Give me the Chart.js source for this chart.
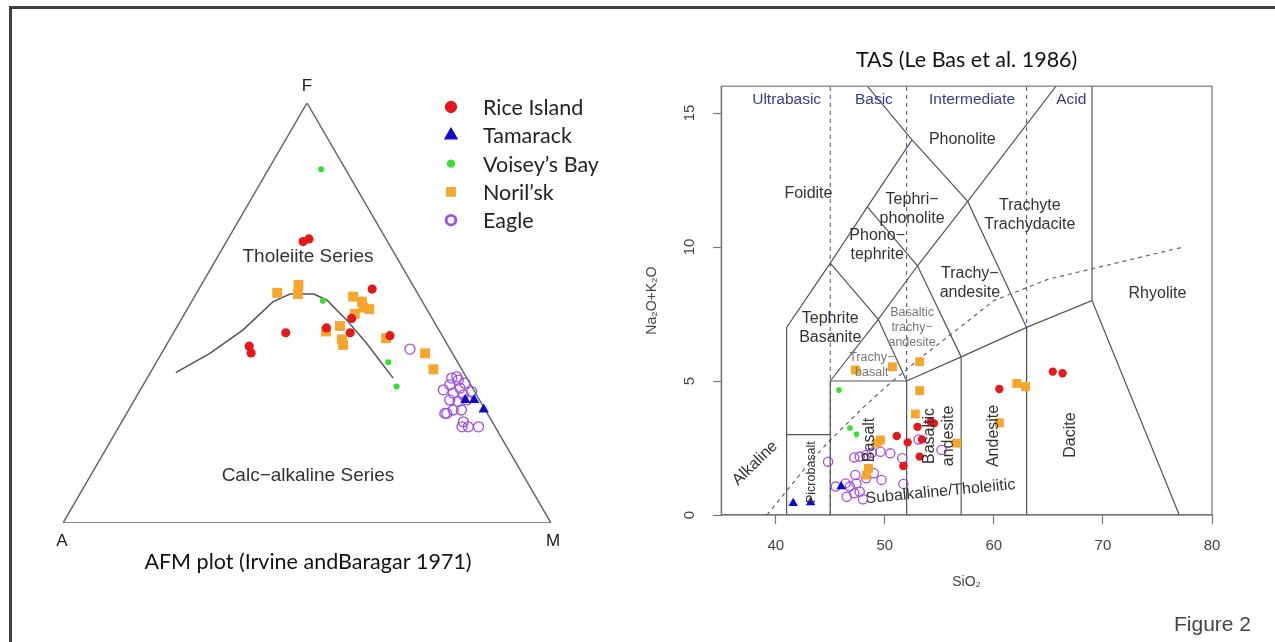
<!DOCTYPE html>
<html>
<head>
<meta charset="utf-8">
<script src="https://cdn.jsdelivr.net/npm/chart.js@4/dist/chart.umd.min.js"></script>
<style>
  html, body { margin: 0; padding: 0; background: #fff; }
  body { width: 1275px; height: 642px; position: relative; overflow: hidden; }
  #frame { position: absolute; left: 9px; top: 6px; width: 1400px; height: 800px;
           border-top: 3px solid #404040; border-left: 3px solid #404040; }
  #afm { position: absolute; left: 12px; top: 12px; }
  #tas { position: absolute; left: 630px; top: 30px; }
  #fig-label { position: absolute; left: 1174px; top: 612px; color: #444;
               font: 21px "Liberation Sans", Arial, sans-serif; }
</style>
</head>
<body>
<div id="frame"></div>
<canvas id="afm" width="618" height="620"></canvas>
<canvas id="tas" width="645" height="600"></canvas>
<div id="fig-label">Figure 2</div>

<script>
// series
const seriesNames = ["Rice Island", "Tamarack", "Voisey\u2019s Bay", "Noril\u2019sk", "Eagle"];

// AFM compositions, [A, F, M] in %
const riceAFM = [[17.3, 67.0, 15.7], [15.8, 67.7, 16.6], [8.8, 55.7, 35.5], [16.5, 48.7, 34.8],
  [18.5, 45.3, 36.2], [22.8, 46.5, 30.8], [31.7, 45.3, 23.0], [40.8, 42.1, 17.1],
  [41.2, 40.5, 18.3], [10.7, 44.6, 44.7]];
const tamarackAFM = [[2.9, 29.3, 67.8], [1.1, 29.3, 69.6], [0.3, 27.0, 72.7]];
const voiseyAFM = [[5.0, 84.2, 10.8], [20.3, 52.9, 26.8], [14.2, 38.3, 47.5], [15.4, 32.5, 52.1]];
const norilskAFM = [[28.7, 54.8, 16.5], [23.4, 56.7, 19.9], [24.6, 54.5, 20.9], [13.6, 53.9, 32.5],
  [12.4, 52.7, 34.9], [11.8, 50.9, 37.3], [12.8, 51.3, 35.9], [15.3, 49.8, 34.9],
  [19.8, 46.9, 33.3], [23.3, 45.6, 31.1], [21.0, 43.7, 35.3], [21.4, 42.4, 36.2],
  [11.8, 44.0, 44.2], [5.6, 40.4, 54.0], [5.8, 36.6, 57.6]];
const eagleAFM = [[8.2, 41.4, 50.4], [1.9, 34.8, 63.3], [4.3, 32.9, 62.8], [6.2, 31.7, 62.1],
  [4.6, 30.9, 64.5], [2.6, 32.1, 65.3], [2.7, 30.5, 66.8], [6.1, 29.3, 64.6],
  [4.6, 28.9, 66.5], [2.6, 29.3, 68.1], [8.7, 26.1, 65.2], [6.6, 26.9, 66.5],
  [4.9, 26.9, 68.2], [5.9, 24.1, 70.0], [6.8, 22.9, 70.3], [5.5, 22.9, 71.6],
  [3.4, 22.9, 73.7], [2.0, 34.0, 64.0], [3.1, 34.5, 62.4], [1.0, 33.3, 65.7],
  [0.6, 31.3, 68.1], [8.3, 26.1, 65.6]];
// Irvine & Baragar tholeiite / calc-alkaline divide, [A, F, M]
const afmDivide = [[59.0, 35.8, 5.2], [49.7, 40.4, 9.9], [40.1, 46.0, 13.9], [30.6, 52.7, 16.7],
  [26.2, 54.5, 19.3], [21.4, 54.5, 24.1], [19.4, 53.1, 27.5], [17.7, 48.3, 34.0],
  [16.4, 42.8, 40.8], [15.1, 34.5, 50.4]];
const afmOutline = [[100, 0, 0], [0, 0, 100], [0, 100, 0], [100, 0, 0]];

// TAS, [SiO2, Na2O+K2O] in wt%
const riceTAS = [[65.4, 5.35], [66.3, 5.29], [60.5, 4.70], [51.1, 2.95], [52.1, 2.71], [53.0, 3.29],
  [54.2, 3.48], [54.5, 3.42], [53.4, 2.82], [53.2, 2.18], [51.7, 1.83]];
const tamarackTAS = [[41.6, 0.44], [43.2, 0.47], [46.0, 1.06]];
const voiseyTAS = [[45.8, 4.66], [46.8, 3.24], [47.4, 3.01]];
const norilskTAS = [[47.3, 5.41], [50.7, 5.53], [53.2, 5.72], [53.2, 4.64], [52.8, 3.77], [60.5, 3.44],
  [62.1, 4.91], [62.9, 4.79], [56.6, 2.68], [49.6, 2.80], [49.3, 2.68], [48.5, 1.74], [48.3, 1.49]];
const eagleTAS = [[44.8, 1.99], [47.2, 2.15], [47.7, 2.18], [48.3, 2.24], [48.8, 2.32], [49.6, 2.36],
  [50.5, 2.30], [51.6, 2.12], [53.1, 2.82], [55.2, 2.43], [47.3, 1.49], [49.0, 1.56],
  [49.7, 1.31], [48.3, 1.37], [45.5, 1.06], [46.4, 1.18], [46.8, 1.06], [46.5, 0.68],
  [47.2, 0.81], [47.7, 0.87], [48.0, 0.59], [51.7, 1.16], [47.4, 1.18]];

// TAS field boundaries (Le Bas et al. 1986)
const tasFieldLines = [
  [[41, 0], [41, 7], [45, 9.4], [48.4, 11.5], [52.5, 14]],
  [[48.4, 16], [52.5, 14], [57.6, 11.7], [63, 7]],
  [[41, 3], [45, 3]],
  [[45, 0], [45, 5], [52, 5], [52, 0]],
  [[52, 5], [57, 5.9], [63, 7], [69, 8], [69, 16]],
  [[57, 0], [57, 5.9]],
  [[63, 0], [63, 7]],
  [[69, 8], [77, 0]],
  [[45, 5], [49.4, 7.3], [53, 9.3], [57.6, 11.7], [65.7, 16]],
  [[45, 9.4], [49.4, 7.3], [52, 5]],
  [[48.4, 11.5], [53, 9.3], [57, 5.9]]
];
const silicaDivides = [45, 52, 63];
const alkalineSiO2 = [39.2, 40, 43.2, 45, 48, 50, 53.7, 55, 60, 65, 77.4];
const alkalineTotal = [0, 0.4, 2, 2.8, 4, 4.75, 6, 6.4, 8, 8.8, 10];
const tasXTicks = [40, 50, 60, 70, 80];
const tasYTicks = [0, 5, 10, 15];

// marker looks
const seriesColors = ["#e3191b", "#0b0bcf", "#2fe22f", "#f6a62c", "#a24ee0"];
const seriesShapes = ["circle", "triangle", "circle", "rect", "circle"];
const seriesFilled = [true, true, true, true, false];
const afmRadius = [4.6, 6, 3, 7, 5];
const tasRadius = [4.2, 5.5, 2.8, 6.3, 4.6];
const drawOrder = [2, 1, 3, 4, 5];

const SANS = '"Liberation Sans", "DejaVu Sans", Arial, sans-serif';
const LATO = 'Lato, "Open Sans", sans-serif';

function ternary(p) {
    const s = p[0] + p[1] + p[2];
    const f = p[1] / s * 100, m = p[2] / s * 100;
    return { x: m + f / 2, y: f * Math.sqrt(3) / 2 };
}

function pointSet(i, pts, radius) {
    return {
        label: seriesNames[i],
        data: pts,
        showLine: false,
        pointStyle: seriesShapes[i],
        pointRadius: radius[i],
        pointBackgroundColor: seriesFilled[i] ? seriesColors[i] : "rgba(0,0,0,0)",
        pointBorderColor: seriesColors[i],
        pointBorderWidth: seriesFilled[i] ? 0 : 1.3,
        order: drawOrder[i],
        clip: false
    };
}

function lineSet(pts, color, width, dash) {
    return {
        data: pts,
        showLine: true,
        fill: false,
        borderColor: color,
        borderWidth: width,
        borderDash: dash || [],
        pointRadius: 0,
        tension: 0,
        order: 10
    };
}

// ---------- AFM ----------
const afmText = {
    id: "afmText",
    afterDatasetsDraw(chart) {
        const { ctx, scales: { x, y } } = chart;
        ctx.save();
        ctx.textAlign = "center";
        ctx.textBaseline = "middle";
        ctx.fillStyle = "#222";
        ctx.font = "17px " + SANS;
        ctx.fillText("F", x.getPixelForValue(50), y.getPixelForValue(86.6) - 17);
        ctx.fillText("A", x.getPixelForValue(0) - 1, y.getPixelForValue(0) + 18);
        ctx.fillText("M", x.getPixelForValue(100) + 2, y.getPixelForValue(0) + 18);
        ctx.fillStyle = "#333";
        ctx.font = "19px " + SANS;
        ctx.fillText("Tholeiite Series", x.getPixelForValue(50.2), y.getPixelForValue(54.8));
        ctx.fillText("Calc\u2212alkaline Series", x.getPixelForValue(50.2), y.getPixelForValue(9.7));
        ctx.fillStyle = "#111";
        ctx.font = "21.5px " + LATO;
        ctx.fillText("AFM plot (Irvine andBaragar 1971)", 296, 550);

        // legend
        ctx.textAlign = "left";
        ctx.font = "21.5px " + LATO;
        const legR = [5.5, 7, 3.5, 6, 4.8];
        seriesNames.forEach((name, i) => {
            const ly = 95 + i * 28.3;
            ctx.fillStyle = seriesFilled[i] ? seriesColors[i] : "rgba(0,0,0,0)";
            ctx.strokeStyle = seriesColors[i];
            ctx.lineWidth = seriesFilled[i] ? 0 : 2.8;
            Chart.helpers.drawPoint(ctx, { pointStyle: seriesShapes[i], radius: legR[i], rotation: 0,
                borderWidth: ctx.lineWidth }, 439, ly);
            ctx.fillStyle = "#222";
            ctx.fillText(name, 471, ly + 1);
        });
        ctx.restore();
    }
};

new Chart(document.getElementById("afm"), {
    type: "scatter",
    data: {
        datasets: [
            lineSet(afmOutline.map(ternary), "#666", 1.5),
            lineSet(afmDivide.map(ternary), "#555", 1.5),
            pointSet(0, riceAFM.map(ternary), afmRadius),
            pointSet(1, tamarackAFM.map(ternary), afmRadius),
            pointSet(2, voiseyAFM.map(ternary), afmRadius),
            pointSet(3, norilskAFM.map(ternary), afmRadius),
            pointSet(4, eagleAFM.map(ternary), afmRadius)
        ]
    },
    options: {
        responsive: false,
        animation: false,
        events: [],
        layout: { padding: { left: 51, right: 79, top: 91, bottom: 109 } },
        scales: {
            x: { type: "linear", min: 0, max: 100, display: false },
            y: { type: "linear", min: 0, max: 86.6, display: false }
        },
        plugins: { legend: { display: false }, tooltip: { enabled: false } }
    },
    plugins: [afmText]
});

// ---------- TAS ----------
const tasFieldLabels = [
    { lines: ["Phonolite"], x: 57.1, y: 14.0 },
    { lines: ["Foidite"], x: 43.0, y: 12.0 },
    { lines: ["Tephri\u2212", "phonolite"], x: 52.5, y: 11.42 },
    { lines: ["Trachyte", "Trachydacite"], x: 63.3, y: 11.18 },
    { lines: ["Phono\u2212", "tephrite"], x: 49.3, y: 10.06 },
    { lines: ["Trachy\u2212", "andesite"], x: 57.8, y: 8.64 },
    { lines: ["Rhyolite"], x: 75.0, y: 8.28 },
    { lines: ["Tephrite", "Basanite"], x: 45.0, y: 6.98 },
    { lines: ["Basaltic", "trachy\u2212", "andesite"], x: 52.5, y: 6.98, small: true },
    { lines: ["Trachy\u2212", "basalt"], x: 48.8, y: 5.6, small: true },
    { lines: ["Picrobasalt"], x: 43.3, y: 1.6, rot: -90, size: 12.5 },
    { lines: ["Basalt"], x: 48.64, y: 2.8, rot: -90 },
    { lines: ["Basaltic", "andesite"], x: 55.0, y: 2.95, rot: -90 },
    { lines: ["Andesite"], x: 60.0, y: 2.95, rot: -90 },
    { lines: ["Dacite"], x: 67.0, y: 2.98, rot: -90 },
    { lines: ["Alkaline"], x: 38.1, y: 1.93, rot: -44 },
    { lines: ["Subalkaline/Tholeiitic"], x: 55.1, y: 0.87, rot: -5.5 }
];
const silicaClassLabels = [
    { text: "Ultrabasic", x: 41.0 }, { text: "Basic", x: 49.0 },
    { text: "Intermediate", x: 58.0 }, { text: "Acid", x: 67.1 }
];

const tasText = {
    id: "tasText",
    beforeDatasetsDraw(chart) {
        const { ctx, chartArea: a } = chart;
        ctx.save();
        ctx.strokeStyle = "#777";
        ctx.lineWidth = 1.2;
        ctx.strokeRect(a.left, a.top, a.right - a.left, a.bottom - a.top);
        ctx.restore();
    },
    afterDatasetsDraw(chart) {
        const { ctx, chartArea: a, scales: { x, y } } = chart;
        ctx.save();
        ctx.textAlign = "center";
        ctx.textBaseline = "middle";

        // title, centred over the plot box
        ctx.fillStyle = "#111";
        ctx.font = "21.5px " + LATO;
        ctx.fillText("TAS (Le Bas et al. 1986)", (a.left + a.right) / 2, 30);

        tasFieldLabels.forEach(l => {
            const size = l.small ? 12.5 : (l.size || 16);
            const lh = l.small ? 15 : 19;
            ctx.font = size + "px " + SANS;
            ctx.fillStyle = l.small ? "#777" : "#333";
            ctx.save();
            ctx.translate(x.getPixelForValue(l.x), y.getPixelForValue(l.y));
            ctx.rotate((l.rot || 0) * Math.PI / 180);
            l.lines.forEach((t, k) => ctx.fillText(t, 0, (k - (l.lines.length - 1) / 2) * lh));
            ctx.restore();
        });
        ctx.font = "15.5px " + SANS;
        ctx.fillStyle = "#3a3a8e";
        silicaClassLabels.forEach(l => ctx.fillText(l.text, x.getPixelForValue(l.x), y.getPixelForValue(15.49)));
        ctx.restore();
    }
};

const xy = p => ({ x: p[0], y: p[1] });
const tasDatasets = tasFieldLines.map(seg => lineSet(seg.map(xy), "#555", 1.2));
silicaDivides.forEach(s => tasDatasets.push(lineSet([{ x: s, y: 0 }, { x: s, y: 16 }], "#5a5aa0", 1.1, [4, 4])));
tasDatasets.push(lineSet(alkalineSiO2.map((s, k) => ({ x: s, y: alkalineTotal[k] })), "#666", 1.2, [4, 4]));
tasDatasets.push(
    pointSet(0, riceTAS.map(xy), tasRadius),
    pointSet(1, tamarackTAS.map(xy), tasRadius),
    pointSet(2, voiseyTAS.map(xy), tasRadius),
    pointSet(3, norilskTAS.map(xy), tasRadius),
    pointSet(4, eagleTAS.map(xy), tasRadius)
);

new Chart(document.getElementById("tas"), {
    type: "scatter",
    data: { datasets: tasDatasets },
    options: {
        responsive: false,
        animation: false,
        events: [],
        layout: { padding: { left: 13.6, right: 63, top: 56.2, bottom: 39.6 } },
        scales: {
            x: {
                type: "linear", min: 35, max: 80,
                afterBuildTicks: s => { s.ticks = tasXTicks.map(v => ({ value: v })); },
                afterFit: s => { s.height = 75.4; },
                grid: { drawOnChartArea: false, drawTicks: true, tickLength: 9, tickColor: "#777", tickWidth: 1.2 },
                border: { color: "#777", width: 1.2 },
                ticks: { padding: 12.6, color: "#444", font: { family: SANS, size: 15 }, maxRotation: 0 },
                title: { display: true, text: "SiO\u2082", color: "#444", padding: 0, font: { family: SANS, size: 14 } }
            },
            y: {
                type: "linear", min: 0, max: 16,
                afterBuildTicks: s => { s.ticks = tasYTicks.map(v => ({ value: v })); },
                afterFit: s => { s.width = 77.6; },
                grid: { drawOnChartArea: false, drawTicks: true, tickLength: 8, tickColor: "#777", tickWidth: 1.2 },
                border: { color: "#777", width: 1.2 },
                ticks: { padding: 15, color: "#444", font: { family: SANS, size: 15 },
                         minRotation: 90, maxRotation: 90, crossAlign: "center" },
                title: { display: true, text: "Na\u2082O+K\u2082O", color: "#444", padding: 0, font: { family: SANS, size: 14 } }
            }
        },
        plugins: { legend: { display: false }, tooltip: { enabled: false } }
    },
    plugins: [tasText]
});
</script>
</body>
</html>
